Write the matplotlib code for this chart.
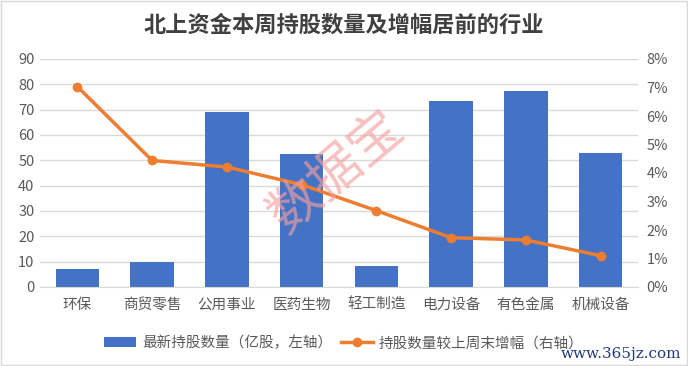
import matplotlib
matplotlib.use("Agg")
import matplotlib.pyplot as plt
from matplotlib.ticker import FuncFormatter, MultipleLocator
from matplotlib.patches import Rectangle

plt.rcParams['font.family'] = ['Noto Sans CJK SC', 'DejaVu Sans']

categories = ["环保", "商贸零售", "公用事业", "医药生物", "轻工制造", "电力设备", "有色金属", "机械设备"]
holdings = [7.2, 10.0, 69.1, 52.4, 8.4, 73.4, 77.4, 52.7]
growth_pct = [7.03, 4.44, 4.21, 3.59, 2.68, 1.73, 1.65, 1.10]
bar_label = "最新持股数量（亿股，左轴）"
line_label = "持股数量较上周末增幅（右轴）"
title = "北上资金本周持股数量及增幅居前的行业"

fig = plt.figure(figsize=(6.88, 3.66), dpi=100)
ax = fig.add_axes([40/688, 1-287/366, 598/688, 228/366])
ax2 = ax.twinx()

x = list(range(len(categories)))
ax.bar(x, holdings, width=0.58, color="#4472C4", zorder=2, label=bar_label)
ax2.plot(x, growth_pct, color="#ED7D31", lw=2.5, marker="o", ms=6, zorder=3, label=line_label)

ax.set_xlim(-0.5, len(categories)-0.5)
ax.set_ylim(0, 90)
ax.yaxis.set_major_locator(MultipleLocator(10))
ax2.set_ylim(0, 8)
ax2.yaxis.set_major_locator(MultipleLocator(1))
ax2.yaxis.set_major_formatter(FuncFormatter(lambda v, p: f"{int(round(v))}%"))

ax.set_xticks(x)
ax.set_xticklabels(categories, fontsize=10.5, color="#595959")
ax.grid(axis="y", color="#D9D9D9", lw=1, zorder=0)
ax.set_axisbelow(True)
for a in (ax, ax2):
    for s in a.spines.values():
        s.set_visible(False)
    a.tick_params(length=0, labelsize=10.5, colors="#595959")
ax.spines['bottom'].set_visible(True)
ax.spines['bottom'].set_color("#D9D9D9")
ax.tick_params(axis='y', pad=4)
ax2.tick_params(axis='y', pad=6)
ax.tick_params(axis='x', pad=8)

fig.text(0.5, 1-25/366, title, ha="center", va="center", fontsize=16, fontweight="bold", color="#404040")

h1, l1 = ax.get_legend_handles_labels()
h2, l2 = ax2.get_legend_handles_labels()
fig.legend(h1 + h2, l1 + l2, loc="center", bbox_to_anchor=(0.5, 1-343/366), ncol=2, frameon=False,
           fontsize=10.5, labelcolor="#595959", handlelength=2.2, columnspacing=0.6, handletextpad=0.4)

fig.text(337/688, 1-172/366, "数据宝", ha="center", va="center", fontsize=38, color="#F4A0A0",
         alpha=0.65, rotation=40, zorder=10)
fig.text(0.99, 1-354/366, "www.365jz.com", ha="right", va="center", fontsize=11, color="#1F3A7A",
         family=["DejaVu Serif"], zorder=10)

fig.patches.append(Rectangle((0.001, 0.002), 0.997, 0.995, transform=fig.transFigure, fill=False,
                             edgecolor="#D9D9D9", lw=1))

fig.savefig("out.png", dpi=100)
